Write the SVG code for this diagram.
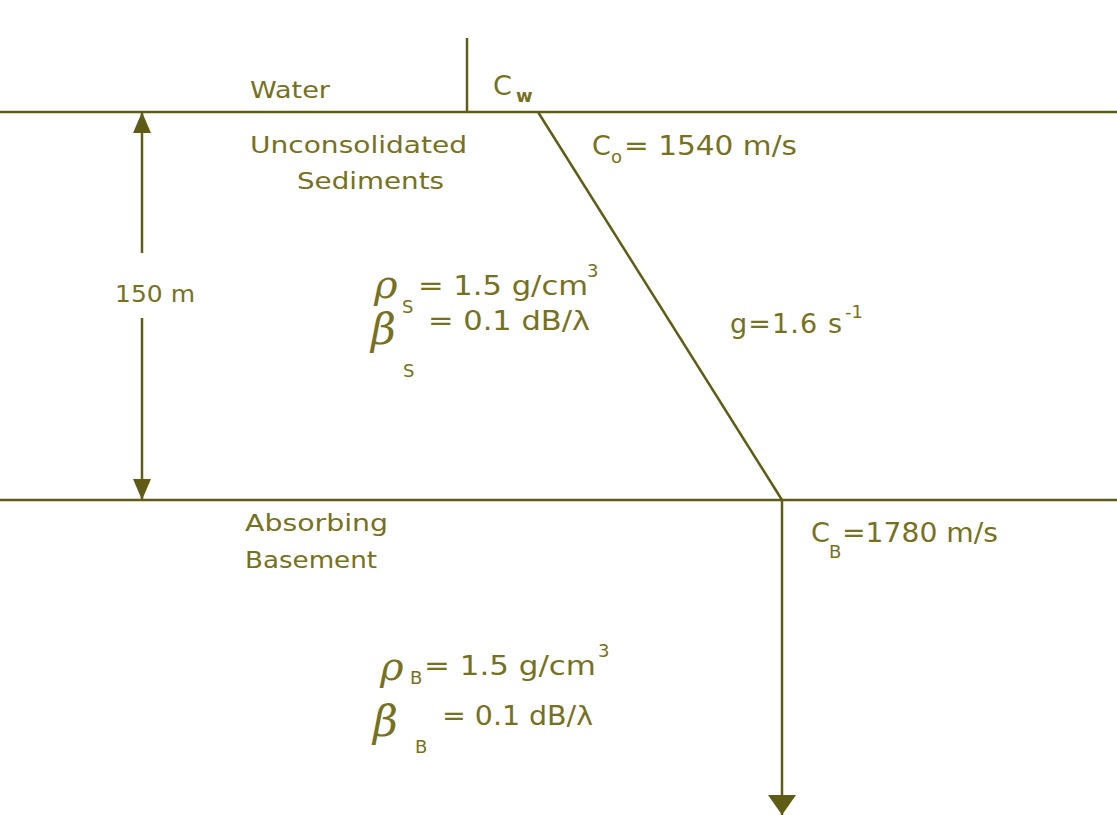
<svg xmlns="http://www.w3.org/2000/svg" width="1117" height="815" viewBox="0 0 1117 815">
<defs>
<style>
.ln{stroke:#5f5c16;stroke-width:2.5;fill:none}
.t{font-family:"DejaVu Sans","Liberation Sans",sans-serif;font-size:23px;fill:#76711f}
.n{font-family:"DejaVu Sans","Liberation Sans",sans-serif;font-size:27px;fill:#76711f}
.s{font-family:"DejaVu Sans","Liberation Sans",sans-serif;font-size:18px;fill:#76711f}
.g{font-family:"DejaVu Serif","Liberation Serif",serif;font-style:italic;font-size:40px;fill:#76711f}
.b{font-family:"DejaVu Serif","Liberation Serif",serif;font-style:italic;font-size:43px;fill:#76711f}
</style>
<marker id="dim" viewBox="0 0 10 10" refX="10" refY="5" markerWidth="21" markerHeight="18" preserveAspectRatio="none" orient="auto" markerUnits="userSpaceOnUse">
<path d="M0,0 L10,5 L0,10 Z" fill="#5f5c16"/>
</marker>
<marker id="big" viewBox="0 0 10 10" refX="10" refY="5" markerWidth="20" markerHeight="28" preserveAspectRatio="none" orient="auto" markerUnits="userSpaceOnUse">
<path d="M0,0 L10,5 L0,10 Z" fill="#5f5c16"/>
</marker>
</defs>
<rect width="1117" height="815" fill="#ffffff"/>
<g id="connectors">
<line class="ln" x1="0" y1="112" x2="1117" y2="112"/>
<line class="ln" x1="0" y1="500" x2="1117" y2="500"/>
<line class="ln" x1="467" y1="38" x2="467" y2="112"/>
<line class="ln" x1="538" y1="112" x2="782" y2="500"/>
<line class="ln" x1="782" y1="500" x2="782" y2="815" marker-end="url(#big)"/>
<line class="ln" x1="142" y1="253" x2="142" y2="112" marker-end="url(#dim)"/>
<line class="ln" x1="142" y1="318" x2="142" y2="500" marker-end="url(#dim)"/>
</g>
<g id="water"><text class="t" x="250" y="98" textLength="80" lengthAdjust="spacingAndGlyphs">Water</text></g>
<g id="cw"><text class="n" x="493" y="95">C</text><text class="s" x="516" y="102" font-weight="bold">w</text></g>
<g id="sediments">
<text class="t" x="250" y="153" textLength="217" lengthAdjust="spacingAndGlyphs">Unconsolidated</text>
<text class="t" x="297" y="189" textLength="147" lengthAdjust="spacingAndGlyphs">Sediments</text>
</g>
<g id="c0"><text class="n" x="592" y="155">C</text><text class="s" x="611" y="163">o</text>
<text class="n" x="624" y="155" textLength="173" lengthAdjust="spacingAndGlyphs">= 1540 m/s</text></g>
<g id="depth"><text class="t" x="115" y="302" textLength="80" lengthAdjust="spacingAndGlyphs">150 m</text></g>
<g id="rhoS"><text class="g" x="374" y="298">ρ</text><text class="s" x="402" y="313">S</text>
<text class="n" x="418" y="295" textLength="170" lengthAdjust="spacingAndGlyphs">= 1.5 g/cm</text><text class="s" x="587" y="277">3</text></g>
<g id="betaS"><text class="b" x="371" y="344">β</text><text class="s" x="403" y="377">S</text>
<text class="n" x="428" y="330" textLength="162" lengthAdjust="spacingAndGlyphs">= 0.1 dB/λ</text></g>
<g id="grad"><text class="n" x="730" y="333" textLength="112" lengthAdjust="spacing">g=1.6 s</text><text class="s" x="845" y="318">-1</text></g>
<g id="basement">
<text class="t" x="245" y="531" textLength="143" lengthAdjust="spacingAndGlyphs">Absorbing</text>
<text class="t" x="245" y="568" textLength="132" lengthAdjust="spacingAndGlyphs">Basement</text>
</g>
<g id="cB"><text class="n" x="811" y="542">C</text><text class="s" x="829" y="558">B</text>
<text class="n" x="842" y="542" textLength="156" lengthAdjust="spacingAndGlyphs">=1780 m/s</text></g>
<g id="rhoB"><text class="g" x="380" y="680">ρ</text><text class="s" x="410" y="684">B</text>
<text class="n" x="424" y="675" textLength="172" lengthAdjust="spacingAndGlyphs">= 1.5 g/cm</text><text class="s" x="598" y="657">3</text></g>
<g id="betaB"><text class="b" x="373" y="736">β</text><text class="s" x="415" y="753">B</text>
<text class="n" x="442" y="725" textLength="151" lengthAdjust="spacingAndGlyphs">= 0.1 dB/λ</text></g>
</svg>
